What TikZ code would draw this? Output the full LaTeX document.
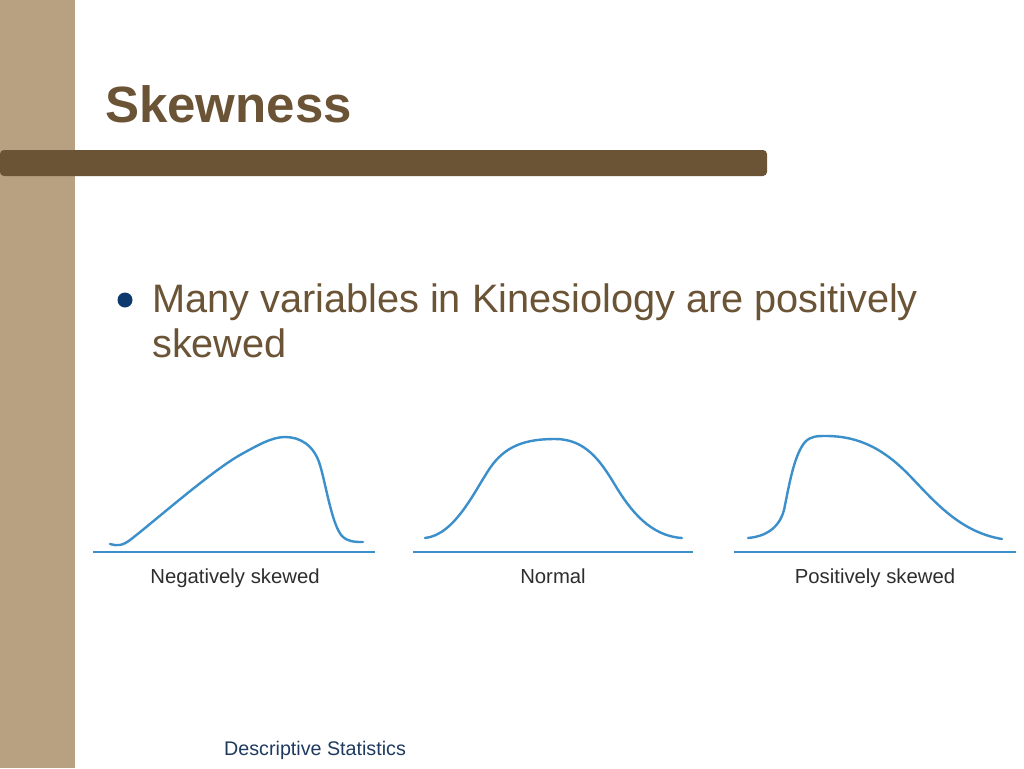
\documentclass[tikz,border=0pt]{standalone}
\usepackage{fontspec}
\setmainfont{Liberation Sans}
\definecolor{tan}{HTML}{B7A180}
\definecolor{brownbar}{HTML}{6B5335}
\definecolor{curveblue}{HTML}{3B8FCB}
\definecolor{bulletblue}{HTML}{0D3A6E}
\definecolor{footblue}{HTML}{1F3A60}
\definecolor{labelgray}{HTML}{2E2E2E}
\tikzset{
  curve/.style={curveblue, line width=2.4pt, line cap=round, line join=round},
  axis/.style={curveblue, line width=2.4pt},
  lbl/.style={anchor=base, inner sep=0pt, text=labelgray, font=\fontsize{20.3}{24}\selectfont},
  bodytext/.style={anchor=base west, inner sep=0pt, text=brownbar, font=\fontsize{39.7}{46}\selectfont},
}
\begin{document}
\begin{tikzpicture}[x=1pt,y=-1pt]
\useasboundingbox (0,0) rectangle (1024,768);
\fill[white] (0,0) rectangle (1024,768);
% left band
\fill[tan] (0,0) rectangle (75,768);
% title bar
\fill[brownbar, rounded corners=4pt] (0,150) rectangle (767,176);
% title
\node[anchor=base west, inner sep=0pt, text=brownbar, font=\fontsize{51}{60}\selectfont\bfseries] (title) at (105,122) {Skewness};
% bullet
\fill[bulletblue] (125,300) circle (7.5);
\node[bodytext] (body1) at (152,312) {Many variables in Kinesiology are positively};
\node[bodytext] (body2) at (152,357) {skewed};
% axes
\draw[axis] (93,552) -- (375,552);
\draw[axis] (413,552) -- (693,552);
\draw[axis] (734,552) -- (1016,552);
% negative skew
\draw[curve] (110,544) .. controls (117,546) and (122,546) .. (130,540)
  .. controls (150,525) and (210,472) .. (240,455)
  .. controls (258,445) and (272,437) .. (285,437)
  .. controls (300,437) and (314,445) .. (320,465)
  .. controls (326,485) and (332,525) .. (342,536)
  .. controls (348,542) and (355,542) .. (363,542);
% normal
\draw[curve] (425,538) .. controls (455,535) and (475,490) .. (490,468)
  .. controls (505,446) and (525,439) .. (555,439)
  .. controls (585,439) and (600,460) .. (615,485)
  .. controls (630,510) and (650,536) .. (682,538);
% positive skew
\draw[curve] (748,538) .. controls (770,536) and (782,524) .. (785,505)
  .. controls (789,486) and (794,455) .. (805,442)
  .. controls (811,436) and (817,436) .. (826,436)
  .. controls (860,436) and (885,450) .. (910,476)
  .. controls (935,502) and (960,532) .. (1002,539);
% labels
\node[lbl] (neg) at (235,583) {Negatively skewed};
\node[lbl] (nor) at (553,583) {Normal};
\node[lbl] (pos) at (875,583) {Positively skewed};
% footer
\node[anchor=base west, inner sep=0pt, text=footblue, font=\fontsize{19.7}{23}\selectfont] (foot) at (224,755) {Descriptive Statistics};
\end{tikzpicture}
\end{document}
